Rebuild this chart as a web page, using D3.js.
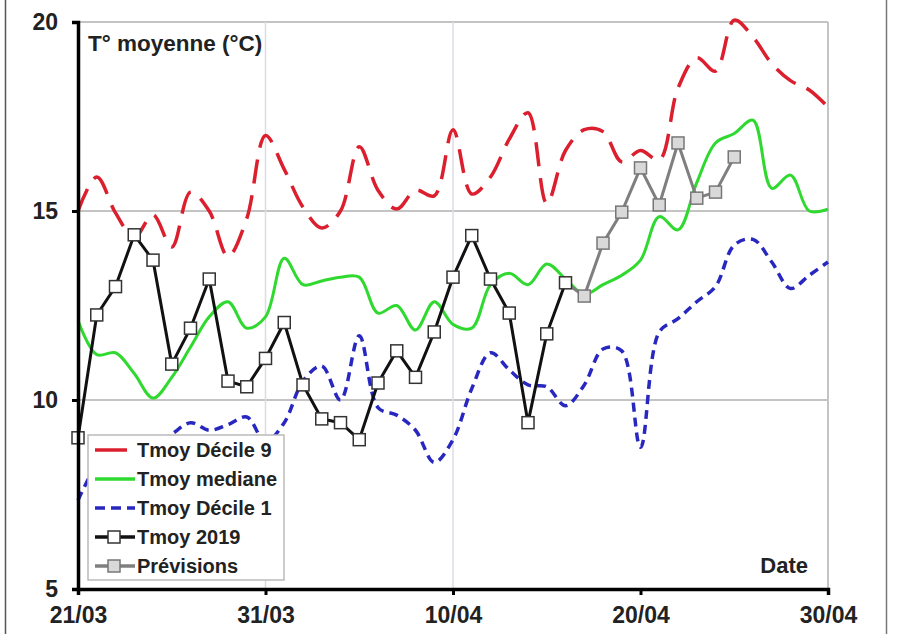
<!DOCTYPE html>
<html>
<head>
<meta charset="utf-8">
<script src="https://cdn.jsdelivr.net/npm/d3@7"></script>
<style>
    body { margin: 0; background: #fff; }
    svg { display: block; font-family: "Liberation Sans", Arial, sans-serif; font-weight: bold; }
</style>
</head>
<body>
<div id="chart"></div>
<script>
// days since 21/03 (0..40)
var days = d3.range(0, 41);
var tickDays = [0, 10, 20, 30, 40];
var tickLabels = ["21/03", "31/03", "10/04", "20/04", "30/04"];
var yTicks = [5, 10, 15, 20];

var decile9 = [15.0, 15.9, 14.95, 14.3, 14.9, 14.05, 15.5, 15.0, 13.8, 14.8,
    17.0, 16.1, 15.1, 14.55, 15.0, 16.7, 15.55, 15.05, 15.55, 15.4,
    17.15, 15.45, 15.9, 16.9, 17.6, 15.2, 16.6, 17.15, 17.1, 16.3,
    16.6, 16.35, 18.25, 19.05, 18.7, 20.05, 19.6, 18.9, 18.45, 18.2, 17.75];

var mediane = [12.1, 11.2, 11.25, 10.7, 10.05, 10.6, 11.4, 12.2, 12.6, 11.9,
    12.2, 13.75, 13.05, 13.15, 13.25, 13.25, 12.3, 12.5, 11.85, 12.6,
    12.0, 11.9, 13.05, 13.35, 13.05, 13.6, 13.2, 12.8, 13.05, 13.3,
    13.7, 14.85, 14.5, 15.75, 16.8, 17.05, 17.4, 15.6, 15.95, 15.0, 15.05];

var decile1 = [7.35, 8.3, 8.9, 9.0, 8.8, 9.1, 9.4, 9.2, 9.35, 9.55,
    8.9, 9.4, 10.5, 10.9, 10.0, 11.7, 9.8, 9.6, 9.2, 8.35,
    8.95, 10.3, 11.25, 10.8, 10.4, 10.35, 9.85, 10.4, 11.35, 11.3,
    8.75, 11.8, 12.15, 12.6, 13.0, 14.1, 14.25, 13.65, 12.95, 13.3, 13.65];

var tmoy2019 = [9.0, 12.25, 13.0, 14.37, 13.7, 10.95, 11.9, 13.2, 10.5, 10.35,
    11.1, 12.05, 10.4, 9.5, 9.4, 8.95, 10.45, 11.3, 10.6, 11.8,
    13.25, 14.35, 13.2, 12.3, 9.4, 11.75, 13.1];

// forecasts start on day 26
var prevStart = 26;
var previsions = [13.1, 12.75, 14.15, 14.97, 16.14, 15.16, 16.8, 15.34, 15.5, 16.43];

var W = 897, H = 634;
var margin = { top: 22, right: 69, bottom: 45, left: 78 };
var width = W - margin.left - margin.right;
var height = H - margin.top - margin.bottom;

var svg = d3.select("#chart").append("svg")
    .attr("width", W)
    .attr("height", H);

// outer frame edges
svg.append("line").attr("x1", 5.5).attr("x2", 5.5).attr("y1", 0).attr("y2", H)
    .attr("stroke", "#555").attr("stroke-width", 1.5);
svg.append("line").attr("x1", 886.5).attr("x2", 886.5).attr("y1", 0).attr("y2", H)
    .attr("stroke", "#777").attr("stroke-width", 1.5);

var g = svg.append("g")
    .attr("transform", "translate(" + margin.left + "," + margin.top + ")");

var x = d3.scaleLinear().domain([0, 40]).range([0, width]);
var y = d3.scaleLinear().domain([5, 20]).range([height, 0]);

// grid
g.selectAll(".hgrid")
    .data([10, 15, 20])
    .enter().append("line")
    .attr("x1", 0).attr("x2", width)
    .attr("y1", function (d) { return y(d); })
    .attr("y2", function (d) { return y(d); })
    .attr("stroke", "#c4c4c4").attr("stroke-width", 2);

g.selectAll(".vgrid")
    .data([10, 20])
    .enter().append("line")
    .attr("x1", function (d) { return x(d); })
    .attr("x2", function (d) { return x(d); })
    .attr("y1", 0).attr("y2", height)
    .attr("stroke", "#dcdce4").attr("stroke-width", 1.5);

g.append("line")
    .attr("x1", x(40)).attr("x2", x(40))
    .attr("y1", 0).attr("y2", height)
    .attr("stroke", "#c4c4c4").attr("stroke-width", 2);

var smooth = d3.line()
    .x(function (d, i) { return x(days[i]); })
    .y(function (d) { return y(d); })
    .curve(d3.curveCatmullRom.alpha(0.5));

g.append("path").datum(decile9)
    .attr("d", smooth)
    .attr("fill", "none")
    .attr("stroke", "#dc1f2e")
    .attr("stroke-width", 3.5)
    .attr("stroke-dasharray", "24,12");

g.append("path").datum(mediane)
    .attr("d", smooth)
    .attr("fill", "none")
    .attr("stroke", "#2fd92f")
    .attr("stroke-width", 3);

g.append("path").datum(decile1)
    .attr("d", smooth)
    .attr("fill", "none")
    .attr("stroke", "#2828c0")
    .attr("stroke-width", 3.5)
    .attr("stroke-dasharray", "9,6");

var straight = d3.line()
    .x(function (d) { return x(d.day); })
    .y(function (d) { return y(d.v); });

var obs = tmoy2019.map(function (v, i) { return { day: i, v: v }; });
var prev = previsions.map(function (v, i) { return { day: prevStart + i, v: v }; });

g.append("path").datum(prev)
    .attr("d", straight)
    .attr("fill", "none")
    .attr("stroke", "#7f7f7f")
    .attr("stroke-width", 3);

g.append("path").datum(obs)
    .attr("d", straight)
    .attr("fill", "none")
    .attr("stroke", "#111")
    .attr("stroke-width", 3);

var sq = 12;
g.selectAll(".obs")
    .data(obs)
    .enter().append("rect")
    .attr("x", function (d) { return x(d.day) - sq / 2; })
    .attr("y", function (d) { return y(d.v) - sq / 2; })
    .attr("width", sq).attr("height", sq)
    .attr("fill", "#fff")
    .attr("stroke", "#333")
    .attr("stroke-width", 1.5);

g.selectAll(".prev")
    .data(prev.slice(1))
    .enter().append("rect")
    .attr("x", function (d) { return x(d.day) - sq / 2; })
    .attr("y", function (d) { return y(d.v) - sq / 2; })
    .attr("width", sq).attr("height", sq)
    .attr("fill", "#d9d9d9")
    .attr("stroke", "#777")
    .attr("stroke-width", 1.5);

// axes
var yAxis = d3.axisLeft(y).tickValues(yTicks).tickSize(6).tickPadding(14);
var xAxis = d3.axisBottom(x).tickValues(tickDays).tickSize(6).tickPadding(12)
    .tickFormat(function (d, i) { return tickLabels[i]; });

var ya = g.append("g").call(yAxis);
var xa = g.append("g").attr("transform", "translate(0," + height + ")").call(xAxis);

[ya, xa].forEach(function (a) {
    a.select(".domain").attr("stroke", "#000").attr("stroke-width", 3.5);
    a.selectAll(".tick line").attr("stroke", "#000").attr("stroke-width", 3);
    a.selectAll(".tick text")
        .attr("fill", "#222")
        .style("font-size", "23px")
        .style("font-weight", "bold")
        .style("font-family", "'Liberation Sans', Arial, sans-serif");
});

g.append("text")
    .attr("x", 10).attr("y", 29)
    .attr("fill", "#222")
    .style("font-size", "22.5px")
    .text("T° moyenne (°C)");

g.append("text")
    .attr("x", width - 20).attr("y", height - 16)
    .attr("text-anchor", "end")
    .attr("fill", "#222")
    .style("font-size", "22px")
    .text("Date");

// legend
var legendItems = [
    { name: "Tmoy Décile 9", color: "#dc1f2e", dash: null, len: 32, marker: false },
    { name: "Tmoy mediane", color: "#2fd92f", dash: null, len: 40, marker: false },
    { name: "Tmoy Décile 1", color: "#2828c0", dash: "10,6", len: 40, marker: false },
    { name: "Tmoy 2019", color: "#111", dash: null, len: 40, marker: true, fill: "#fff", mstroke: "#333" },
    { name: "Prévisions", color: "#7f7f7f", dash: null, len: 40, marker: true, fill: "#d9d9d9", mstroke: "#777" }
];

var lg = svg.append("g").attr("transform", "translate(88,435)");
lg.append("rect")
    .attr("width", 196).attr("height", 145)
    .attr("fill", "#fff")
    .attr("stroke", "#bbb").attr("stroke-width", 1.5);

var row = lg.selectAll(".row")
    .data(legendItems)
    .enter().append("g")
    .attr("transform", function (d, i) { return "translate(7," + (15 + i * 29) + ")"; });

row.append("line")
    .attr("x1", 0).attr("x2", function (d) { return d.len; })
    .attr("stroke", function (d) { return d.color; })
    .attr("stroke-width", 3.5)
    .attr("stroke-dasharray", function (d) { return d.dash; });

row.filter(function (d) { return d.marker; })
    .append("rect")
    .attr("x", 13).attr("y", -6).attr("width", 12).attr("height", 12)
    .attr("fill", function (d) { return d.fill; })
    .attr("stroke", function (d) { return d.mstroke; })
    .attr("stroke-width", 1.5);

row.append("text")
    .attr("x", 42).attr("dy", "0.36em")
    .attr("fill", "#222")
    .style("font-size", "20px")
    .text(function (d) { return d.name; });
</script>
</body>
</html>
